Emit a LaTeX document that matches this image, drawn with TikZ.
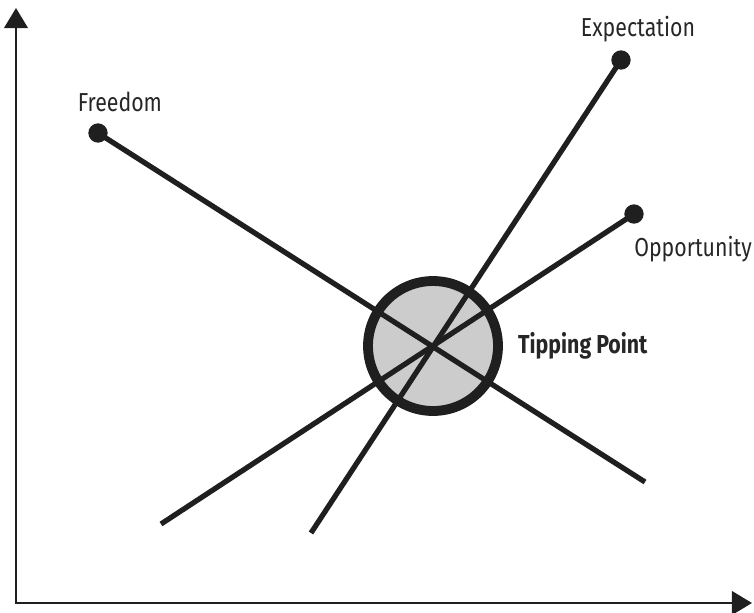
\documentclass[tikz,border=0pt]{standalone}
\usepackage{fontspec}
\setmainfont{Fira Sans}[FakeStretch=0.82]
\usetikzlibrary{arrows.meta}

\tikzset{
  axis/.style={line width=1.3pt,-{Triangle[length=11.5pt,width=13.5pt]}},
  trend/.style={line width=3pt,line cap=butt},
  dot/.style={circle,fill=black!88,inner sep=0pt,minimum size=11pt},
  lbl/.style={font=\fontsize{14.8}{16}\selectfont,text=black!85}
}

\begin{document}
\begin{tikzpicture}[x=0.02cm,y=-0.02cm]
  \useasboundingbox (0,0) rectangle (754,612);
  % axes
  \coordinate (origin) at (16,603);
  \coordinate (ytop) at (16,8);
  \coordinate (xend) at (752,603);
  \draw[axis,draw=black!88,fill=black!88] (origin) -- (ytop);
  \draw[axis,draw=black!88,fill=black!88] (15,603) -- (xend);
  % tipping point
  \node[circle,draw=black!88,line width=5.6pt,fill=black!20,inner sep=0pt,minimum size=2.6cm] (tip) at (433,346) {};
  \node[anchor=west,lbl,font=\fontsize{14.8}{16}\selectfont\bfseries] (tiplbl) at (512,346) {Tipping Point};
  % end points
  \node[dot] (freedom) at (98,133) {};
  \node[dot] (expectation) at (621,60) {};
  \node[dot] (opportunity) at (634,214) {};
  \coordinate (freedomend) at (645,482);
  \coordinate (expectationend) at (311,533);
  \coordinate (opportunityend) at (161,524);
  % lines through the tipping point
  \foreach \a in {freedom,expectation,opportunity}{
    \draw[trend,black!88] (\a.center) -- (\a end);
  }
  % labels
  \node[lbl] (freedomlbl) at (120,102) {Freedom};
  \node[lbl] (expectationlbl) at (638,29) {Expectation};
  \node[lbl] (opportunitylbl) at (693,249) {Opportunity};
\end{tikzpicture}
\end{document}
